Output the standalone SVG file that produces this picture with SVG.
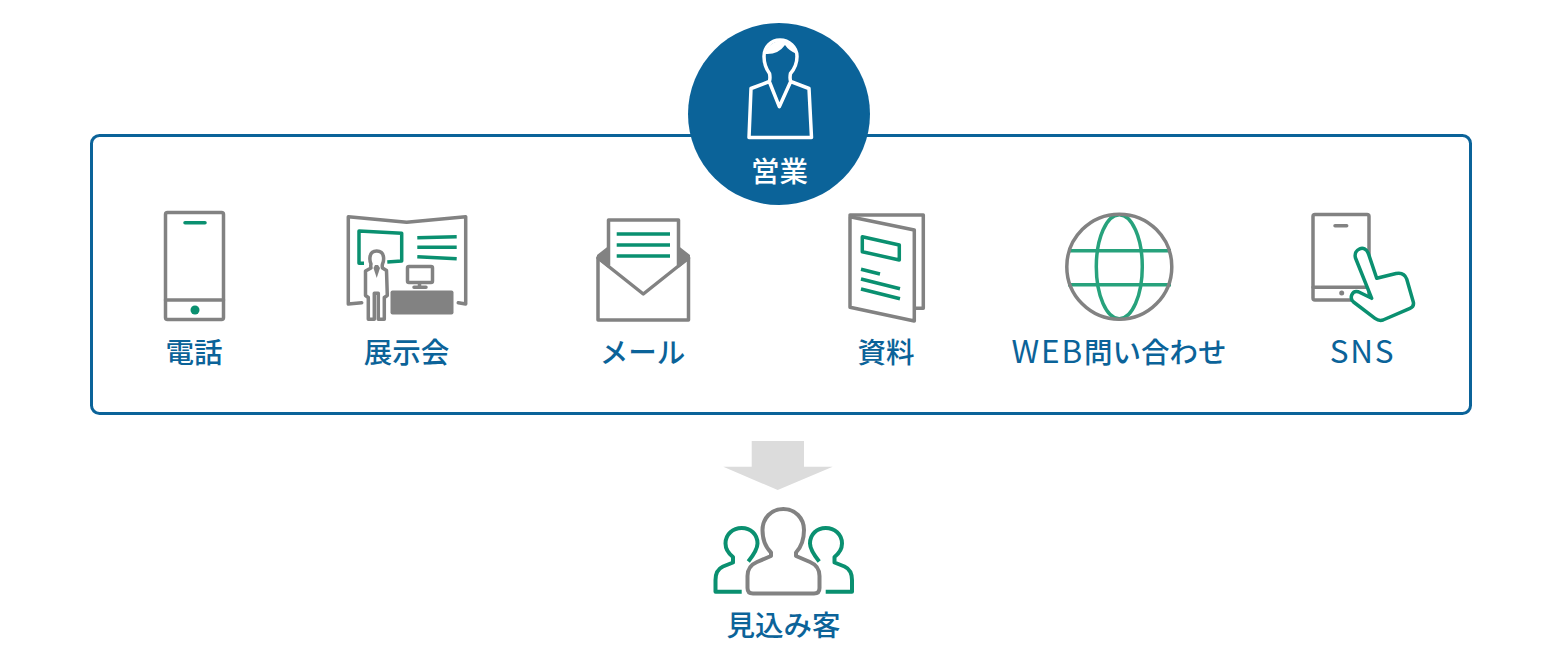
<svg xmlns="http://www.w3.org/2000/svg" width="1567" height="667" viewBox="0 0 1567 667">
<style>
.g{fill:none;stroke:#828282;stroke-width:3.500;stroke-linejoin:round;stroke-linecap:round}
.t{fill:none;stroke:#0a9070;stroke-width:3.500;stroke-linejoin:round}
.l{fill:none;stroke:#27a27c;stroke-width:3.500}
.w{fill:none;stroke:#fff;stroke-width:3.500;stroke-linejoin:round;stroke-linecap:round}
text{font-family:"Noto Sans CJK JP","Noto Sans",sans-serif;font-size:28.500px;font-weight:500;fill:#0b6399;text-anchor:middle}
.lat{font-size:31.500px;font-weight:400;letter-spacing:1.800px}
</style>
<rect width="1567" height="667" fill="#fff"/>
<g id="frame"><rect x="91.500" y="135.500" width="1379" height="278" rx="8" fill="none" stroke="#0b6399" stroke-width="3"/></g>
<g id="sales">
<circle cx="779" cy="114" r="91" fill="#0b6399"/>
<path class="w" d="M749 137.500H811.500L809 88.500L790.700 81.500Q789.500 78 790.500 73.500Q797 66 797 56.500C797 47 789 40 780 40C771 40 764 47 764 56.500Q764 66 769.500 73.500Q770.500 78 769.300 81.500L751 88.500ZM769.300 81.500L779.300 106.700L790.700 81.500"/>
<path d="M765 54C769 38 792 35 797 54Q789 51 785 45Q778 55 765 54Z" fill="#fff"/>
<text x="779.500" y="181.500" style="fill:#fff">営業</text>
</g>
<g id="phone">
<rect class="g" x="165.500" y="212.500" width="58" height="107" rx="2"/>
<path class="g" d="M165.500 300H223.500"/>
<path class="t" d="M185 222.700H205" stroke-linecap="round"/>
<circle cx="195" cy="310" r="4.500" fill="#0a9070"/>
<text x="194" y="362.500">電話</text>
</g>
<g id="booth">
<path class="g" d="M361.700 302.700L348.300 304V216.700L406.700 222.300L465.700 216.700V304L458.300 302.700"/>
<path class="t" d="M364 263.300H359V231L401.700 233.300V261L387.300 262"/>
<path class="t" d="M417.300 237.700L456.700 236.700M417.300 247.300H456.700M417.300 256.700L456.700 258.700"/>
<path class="g" d="M371 268Q370.500 265.500 371 264Q369.500 261 370 257C370.500 253 373 251 376.700 251C380.500 251 383 253 383.500 257Q384 261 382.500 264Q382 266 382.500 268L386.500 270.500L387.300 295.500L384.300 297.500V319.300H378.300V293.300H374.300V319.300H368.300V297.500L365.500 295.500V271Z"/>
<path d="M373.500 268L376.700 278L380 268L378 265H375Z" fill="#828282"/>
<rect class="g" x="407.500" y="266.500" width="25" height="16" rx="1.500"/>
<path class="g" d="M419.500 283V287.300M414 287.300H426"/>
<rect x="390.500" y="290.500" width="63" height="24" rx="2" fill="#828282"/>
<text x="406.500" y="362.500">展示会</text>
</g>
<g id="mail">
<path class="g" d="M598 257.500V320H688.500V257.500"/>
<path class="g" d="M598 258L643.300 294L688.500 258"/>
<path d="M608.500 246L597 255V259L608.500 268ZM678.500 246L690 255V259L678.500 268Z" fill="#828282"/>
<path class="g" d="M608.500 265V220H678.500V265"/>
<path class="t" d="M616.700 234H670M616.700 245H670M616.700 256H670"/>
<text x="642.500" y="362.500">メール</text>
</g>
<g id="document">
<path class="g" d="M850 215H923.300V308.300H915"/>
<path class="g" d="M850 216.700L914.300 230V321L850 307.300Z"/>
<path class="t" d="M862.300 236.700L899.300 245V260L862.300 251.700Z"/>
<path class="t" d="M861 269.300L880 274M861 279L900 288.700M861 289L900 298.700"/>
<text x="886" y="362.500">資料</text>
</g>
<g id="web">
<path class="l" d="M1068 250.700H1171M1068 284.700H1171"/>
<ellipse class="l" cx="1119.300" cy="266.700" rx="23" ry="52"/>
<circle class="g" cx="1119.300" cy="266.700" r="52.500"/>
<text x="1119" y="362.500"><tspan class="lat">WEB</tspan>問い合わせ</text>
</g>
<g id="sns">
<rect class="g" x="1313" y="214.500" width="56" height="85.500" rx="2"/>
<path class="g" d="M1313 287.300H1369M1335 225.700H1346.700"/>
<circle cx="1341.700" cy="293" r="2.500" fill="#828282"/>
<path d="M1371.700 298.300L1355.500 258C1353 249 1365 244 1368.300 253.300L1376.700 278.300L1396 273.500C1401 272.500 1405 274.500 1406.700 279L1413.300 302C1414 305 1413 307 1410 308.300L1383 320C1380 321 1378 320.500 1375 318.300L1353.500 302C1349 298 1352 290 1358.300 291.700Z" fill="#fff" stroke="#0a9070" stroke-width="3.500" stroke-linejoin="round"/>
<text x="1362.500" y="362.500" class="lat">SNS</text>
</g>
<g id="connectors">
<path d="M751.700 441H804V466.700H832.700L777.700 490L723.300 466.700H751.700Z" fill="#dcdcdc"/>
</g>
<g id="prospects">
<path class="t" style="stroke-width:4" d="M741.700 591.700H715.500V580Q715.500 570 723 566.500L733 562.500V557Q725.500 551 725.500 543.500C725.500 534 733 528 741.700 528C750.500 528 757.500 534 757.500 543.500Q757.500 550 748.300 561.500"/>
<path class="t" style="stroke-width:4" d="M825.700 591.700H852V580Q852 570 844.500 566.500L834.500 562.500V557Q842 551 842 543.500C842 534 834.500 528 825.700 528C817 528 810 534 810 543.500Q810 550 819.200 561.500"/>
<path class="g" style="stroke-width:4" d="M747.500 576V588C747.500 591.500 749.500 593.500 753 593.500H814C817.500 593.500 819.500 591.500 819.500 588V576Q819.500 566 810 562L796 556V552.500Q804 544 804 530C804 518 795 509 783.300 509C771.500 509 762.500 518 762.500 530Q762.500 544 771 552.500V556L757 562Q747.500 566 747.500 576Z"/>
<text x="783.500" y="635.500">見込み客</text>
</g>
</svg>
